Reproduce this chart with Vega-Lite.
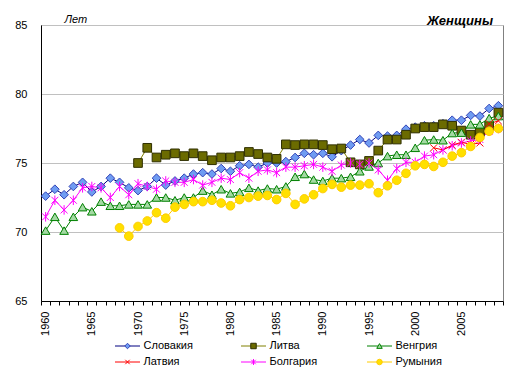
{
  "$schema": "https://vega.github.io/schema/vega-lite/v6.json",
  "width": 462,
  "height": 276,
  "autosize": {"type": "none"},
  "padding": {"left": 41, "top": 25, "right": 16, "bottom": 76},
  "background": "white",
  "config": {
    "font": "Liberation Sans",
    "view": {"stroke": "#808080", "strokeWidth": 1},
    "axis": {"labelFont": "Liberation Sans", "labelFontSize": 11, "labelColor": "black"},
    "legend": {"labelFont": "Liberation Sans", "labelFontSize": 11, "labelColor": "black", "padding": 0}
  },
  "title": {"text": "Женщины", "anchor": "end", "frame": "group", "dx": -10, "offset": -15, "font": "Liberation Sans", "fontSize": 13, "fontWeight": "bold", "fontStyle": "italic", "color": "black"},
  "data": {"values": [
    {"year": 1960, "Словакия": 72.6, "Литва": null, "Венгрия": 70.1, "Латвия": null, "Болгария": 71.1, "Румыния": null},
    {"year": 1961, "Словакия": 73.1, "Литва": null, "Венгрия": 71.1, "Латвия": null, "Болгария": 72.3, "Румыния": null},
    {"year": 1962, "Словакия": 72.7, "Литва": null, "Венгрия": 70.1, "Латвия": null, "Болгария": 71.6, "Румыния": null},
    {"year": 1963, "Словакия": 73.3, "Литва": null, "Венгрия": 71.1, "Латвия": null, "Болгария": 72.3, "Румыния": null},
    {"year": 1964, "Словакия": 73.6, "Литва": null, "Венгрия": 71.8, "Латвия": null, "Болгария": 73.2, "Румыния": null},
    {"year": 1965, "Словакия": 72.9, "Литва": null, "Венгрия": 71.5, "Латвия": null, "Болгария": 73.3, "Румыния": null},
    {"year": 1966, "Словакия": 73.3, "Литва": null, "Венгрия": 72.2, "Латвия": null, "Болгария": 73.2, "Румыния": null},
    {"year": 1967, "Словакия": 73.9, "Литва": null, "Венгрия": 71.9, "Латвия": null, "Болгария": 72.5, "Румыния": null},
    {"year": 1968, "Словакия": 73.6, "Литва": null, "Венгрия": 71.9, "Латвия": null, "Болгария": 73.3, "Румыния": 70.3},
    {"year": 1969, "Словакия": 73.2, "Литва": null, "Венгрия": 72.0, "Латвия": null, "Болгария": 72.7, "Румыния": 69.7},
    {"year": 1970, "Словакия": 73.0, "Литва": 75.0, "Венгрия": 72.0, "Латвия": null, "Болгария": 73.5, "Румыния": 70.4},
    {"year": 1971, "Словакия": 73.3, "Литва": 76.1, "Венгрия": 72.0, "Латвия": null, "Болгария": 73.3, "Румыния": 70.8},
    {"year": 1972, "Словакия": 73.9, "Литва": 75.4, "Венгрия": 72.5, "Латвия": null, "Болгария": 73.1, "Румыния": 71.4},
    {"year": 1973, "Словакия": 73.4, "Литва": 75.6, "Венгрия": 72.5, "Латвия": null, "Болгария": 73.7, "Румыния": 71.0},
    {"year": 1974, "Словакия": 73.7, "Литва": 75.7, "Венгрия": 72.3, "Латвия": null, "Болгария": 73.6, "Румыния": 71.8},
    {"year": 1975, "Словакия": 73.9, "Литва": 75.5, "Венгрия": 72.5, "Латвия": null, "Болгария": 73.6, "Румыния": 72.0},
    {"year": 1976, "Словакия": 74.2, "Литва": 75.7, "Венгрия": 72.5, "Латвия": null, "Болгария": 73.8, "Румыния": 72.2},
    {"year": 1977, "Словакия": 74.3, "Литва": 75.5, "Венгрия": 73.0, "Латвия": null, "Болгария": 73.4, "Румыния": 72.2},
    {"year": 1978, "Словакия": 74.2, "Литва": 75.2, "Венгрия": 72.7, "Латвия": null, "Болгария": 73.6, "Румыния": 72.3},
    {"year": 1979, "Словакия": 74.6, "Литва": 75.4, "Венгрия": 73.1, "Латвия": null, "Болгария": 73.9, "Румыния": 72.1},
    {"year": 1980, "Словакия": 74.4, "Литва": 75.4, "Венгрия": 72.8, "Латвия": null, "Болгария": 73.8, "Румыния": 71.9},
    {"year": 1981, "Словакия": 74.8, "Литва": 75.5, "Венгрия": 72.9, "Латвия": null, "Болгария": 74.3, "Румыния": 72.35},
    {"year": 1982, "Словакия": 74.9, "Литва": 75.8, "Венгрия": 73.2, "Латвия": null, "Болгария": 73.9, "Румыния": 72.5},
    {"year": 1983, "Словакия": 74.7, "Литва": 75.65, "Венгрия": 73.0, "Латвия": null, "Болгария": 74.4, "Румыния": 72.6},
    {"year": 1984, "Словакия": 75.0, "Литва": 75.4, "Венгрия": 73.15, "Латвия": null, "Болгария": 74.5, "Румыния": 72.65},
    {"year": 1985, "Словакия": 75.0, "Литва": 75.3, "Венгрия": 73.1, "Латвия": null, "Болгария": 74.3, "Румыния": 72.35},
    {"year": 1986, "Словакия": 75.1, "Литва": 76.35, "Венгрия": 73.3, "Латвия": null, "Болгария": 74.7, "Румыния": 72.8},
    {"year": 1987, "Словакия": 75.4, "Литва": 76.3, "Венгрия": 74.0, "Латвия": null, "Болгария": 74.7, "Румыния": 72.0},
    {"year": 1988, "Словакия": 75.7, "Литва": 76.35, "Венгрия": 74.2, "Латвия": null, "Болгария": 74.8, "Румыния": 72.4},
    {"year": 1989, "Словакия": 75.6, "Литва": 76.35, "Венгрия": 73.8, "Латвия": null, "Болгария": 74.9, "Румыния": 72.7},
    {"year": 1990, "Словакия": 75.7, "Литва": 76.3, "Венгрия": 73.7, "Латвия": null, "Болгария": 74.7, "Румыния": 73.15},
    {"year": 1991, "Словакия": 75.45, "Литва": 76.0, "Венгрия": 73.9, "Латвия": null, "Болгария": 74.4, "Румыния": 73.45},
    {"year": 1992, "Словакия": 75.9, "Литва": 76.05, "Венгрия": 73.9, "Латвия": null, "Болгария": 74.85, "Румыния": 73.25},
    {"year": 1993, "Словакия": 76.3, "Литва": 75.05, "Венгрия": 74.0, "Латвия": null, "Болгария": 75.0, "Румыния": 73.4},
    {"year": 1994, "Словакия": 76.7, "Литва": 74.9, "Венгрия": 74.4, "Латвия": null, "Болгария": 74.9, "Румыния": 73.4},
    {"year": 1995, "Словакия": 76.45, "Литва": 75.15, "Венгрия": 74.75, "Латвия": null, "Болгария": 75.0, "Румыния": 73.5},
    {"year": 1996, "Словакия": 77.0, "Литва": 75.9, "Венгрия": 75.0, "Латвия": null, "Болгария": 74.5, "Румыния": 72.85},
    {"year": 1997, "Словакия": 76.95, "Литва": 76.7, "Венгрия": 75.5, "Латвия": null, "Болгария": 73.75, "Румыния": 73.35},
    {"year": 1998, "Словакия": 77.0, "Литва": 76.7, "Венгрия": 75.6, "Латвия": null, "Болгария": 74.6, "Румыния": 73.75},
    {"year": 1999, "Словакия": 77.45, "Литва": 77.05, "Венгрия": 75.6, "Латвия": null, "Болгария": 75.05, "Румыния": 74.25},
    {"year": 2000, "Словакия": 77.6, "Литва": 77.5, "Венгрия": 76.1, "Латвия": null, "Болгария": 75.05, "Румыния": 74.8},
    {"year": 2001, "Словакия": 77.7, "Литва": 77.6, "Венгрия": 76.65, "Латвия": null, "Болгария": 75.5, "Румыния": 74.9},
    {"year": 2002, "Словакия": 77.7, "Литва": 77.6, "Венгрия": 76.7, "Латвия": 76.1, "Болгария": 75.6, "Румыния": 74.75},
    {"year": 2003, "Словакия": 77.85, "Литва": 77.8, "Венгрия": 76.65, "Латвия": 75.95, "Болгария": 75.95, "Румыния": 75.05},
    {"year": 2004, "Словакия": 78.1, "Литва": 77.7, "Венгрия": 77.17, "Латвия": 76.3, "Болгария": 76.25, "Румыния": 75.5},
    {"year": 2005, "Словакия": 78.1, "Литва": 77.35, "Венгрия": 77.2, "Латвия": 76.5, "Болгария": 76.45, "Румыния": 75.75},
    {"year": 2006, "Словакия": 78.45, "Литва": 77.05, "Венгрия": 77.8, "Латвия": 76.35, "Болгария": 76.6, "Румыния": 76.2},
    {"year": 2007, "Словакия": 78.4, "Литва": 77.25, "Венгрия": 77.8, "Латвия": 76.45, "Болгария": 76.7, "Румыния": 76.85},
    {"year": 2008, "Словакия": 78.95, "Литва": 77.7, "Венгрия": 78.25, "Латвия": 77.85, "Болгария": 77.3, "Румыния": 77.3},
    {"year": 2009, "Словакия": 79.15, "Литва": 78.65, "Венгрия": 78.4, "Латвия": 78.05, "Болгария": 77.5, "Румыния": 77.5}
  ]},
  "transform": [
    {"fold": ["Словакия", "Литва", "Венгрия", "Латвия", "Болгария", "Румыния"], "as": ["country", "v"]},
    {"filter": "isValid(datum.v)"}
  ],
  "encoding": {
    "y": {
      "field": "v", "type": "quantitative",
      "scale": {"domain": [65, 85], "nice": false, "zero": false},
      "axis": {
        "title": "Лет", "titleAngle": 0, "titleX": 23, "titleY": -3, "titleAlign": "left", "titleBaseline": "alphabetic",
        "titleFont": "Liberation Sans", "titleFontSize": 11, "titleFontStyle": "italic", "titleFontWeight": "normal", "titleColor": "black",
        "values": [65, 70, 75, 80, 85], "ticks": false, "tickSize": 0, "labelPadding": 14,
        "domainColor": "black", "domainWidth": 1, "grid": true, "gridColor": "#c0c0c0", "gridWidth": 1
      }
    }
  },
  "layer": [
    {
      "mark": {"type": "line", "strokeWidth": 1},
      "encoding": {
        "x": {
          "field": "year", "type": "quantitative",
          "scale": {"domain": [1959.5, 2009.5], "nice": false, "zero": false},
          "axis": {
            "orient": "bottom", "title": null, "labels": false, "ticks": true, "tickSize": 4, "tickColor": "black", "tickWidth": 1,
            "domainColor": "black", "domainWidth": 1, "grid": false,
            "values": [1959.5, 1960.5, 1961.5, 1962.5, 1963.5, 1964.5, 1965.5, 1966.5, 1967.5, 1968.5, 1969.5, 1970.5, 1971.5, 1972.5, 1973.5, 1974.5, 1975.5, 1976.5, 1977.5, 1978.5, 1979.5, 1980.5, 1981.5, 1982.5, 1983.5, 1984.5, 1985.5, 1986.5, 1987.5, 1988.5, 1989.5, 1990.5, 1991.5, 1992.5, 1993.5, 1994.5, 1995.5, 1996.5, 1997.5, 1998.5, 1999.5, 2000.5, 2001.5, 2002.5, 2003.5, 2004.5, 2005.5, 2006.5, 2007.5, 2008.5, 2009.5]
          }
        },
        "color": {
          "field": "country", "type": "nominal",
          "sort": ["Словакия", "Литва", "Венгрия", "Латвия", "Болгария", "Румыния"],
          "scale": {"range": ["#000080", "#808000", "#008000", "#FF0000", "#FF00FF", "#FFCC00"]},
          "legend": {"title": null, "orient": "none", "legendX": 73.5, "legendY": 314, "direction": "horizontal", "columns": 3, "gridAlign": "all", "columnPadding": 47, "rowPadding": 2, "clipHeight": 14, "symbolType": "stroke", "symbolSize": 625, "symbolStrokeWidth": 1, "labelOffset": 3}
        }
      }
    },
    {
      "mark": {"type": "point", "filled": true, "size": 75, "strokeWidth": 1, "opacity": 1},
      "encoding": {
        "x": {
          "field": "year", "type": "quantitative",
          "scale": {"domain": [1959.5, 2009.5], "nice": false, "zero": false},
          "axis": {
            "orient": "bottom", "title": null, "ticks": false, "domain": false, "grid": false, "labelAngle": 270, "labelPadding": 10,
            "values": [1960, 1965, 1970, 1975, 1980, 1985, 1990, 1995, 2000, 2005], "format": "d"
          }
        },
        "shape": {
          "field": "country", "type": "nominal",
          "scale": {"domain": ["Словакия", "Литва", "Венгрия", "Латвия", "Болгария", "Румыния"], "range": ["diamond", "square", "triangle-up", "M-0.8,-0.8L0.8,0.8M-0.8,0.8L0.8,-0.8", "M-0.8,-0.8L0.8,0.8M-0.8,0.8L0.8,-0.8M0,-1.1L0,1.1", "circle"]},
          "legend": {"title": null, "orient": "none", "legendX": 73.5, "legendY": 314, "direction": "horizontal", "columns": 3, "gridAlign": "all", "columnPadding": 36, "rowPadding": 2, "clipHeight": 14, "symbolSize": 30, "symbolStrokeWidth": 1, "symbolOffset": 7.5, "labelOffset": 22, "labelOpacity": 0}
        },
        "fill": {
          "field": "country", "type": "nominal",
          "scale": {"domain": ["Словакия", "Литва", "Венгрия", "Латвия", "Болгария", "Румыния"], "range": ["#6f9cf2", "#6b6b00", "#a3d9a3", "transparent", "transparent", "#ffe000"]},
          "legend": {"title": null, "orient": "none", "legendX": 73.5, "legendY": 314, "direction": "horizontal", "columns": 3, "gridAlign": "all", "columnPadding": 36, "rowPadding": 2, "clipHeight": 14, "symbolSize": 30, "symbolStrokeWidth": 1, "symbolOffset": 7.5, "labelOffset": 22, "labelOpacity": 0}
        },
        "stroke": {
          "field": "country", "type": "nominal",
          "scale": {"domain": ["Словакия", "Литва", "Венгрия", "Латвия", "Болгария", "Румыния"], "range": ["#3344b8", "#2f2f00", "#008000", "#FF0000", "#FF00FF", "#ffcc00"]},
          "legend": {"title": null, "orient": "none", "legendX": 73.5, "legendY": 314, "direction": "horizontal", "columns": 3, "gridAlign": "all", "columnPadding": 36, "rowPadding": 2, "clipHeight": 14, "symbolSize": 30, "symbolStrokeWidth": 1, "symbolOffset": 7.5, "labelOffset": 22, "labelOpacity": 0}
        }
      }
    }
  ],
  "resolve": {"axis": {"x": "independent"}}
}
